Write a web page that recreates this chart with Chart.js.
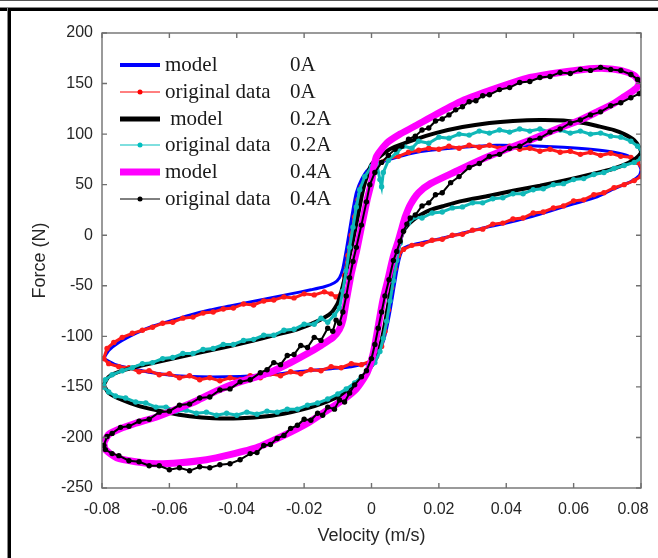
<!DOCTYPE html>
<html>
<head>
<meta charset="utf-8">
<script src="https://cdn.jsdelivr.net/npm/chart.js@4.4.1/dist/chart.umd.min.js"></script>
<style>
  body { margin: 0; background: #fff; }
  #wrap { position: relative; width: 658px; height: 558px; overflow: hidden; }
  canvas { position: absolute; left: 0; top: 0; }
  .fr { position: absolute; }
</style>
</head>
<body>
<div id="wrap">
  <canvas id="chart" width="658" height="558"></canvas>
  <div class="fr" style="left:0;top:0;width:658px;height:1px;background:#555;"></div>
  <div class="fr" style="left:0;top:7px;width:658px;height:1px;background:#888;"></div>
  <div class="fr" style="left:0;top:8px;width:658px;height:3px;background:#000;"></div>
  <div class="fr" style="left:7px;top:8px;width:1px;height:550px;background:#888;"></div>
  <div class="fr" style="left:8px;top:8px;width:3px;height:550px;background:#000;"></div>
</div>
<script>
// axis ticks
var xTicks = [-0.08, -0.06, -0.04, -0.02, 0, 0.02, 0.04, 0.06, 0.08];
var xTickLabels = ['-0.08', '-0.06', '-0.04', '-0.02', '0', '0.02', '0.04', '0.06', '0.08'];
var yTicks = [-250, -200, -150, -100, -50, 0, 50, 100, 150, 200];
var yTickLabels = ['-250', '-200', '-150', '-100', '-50', '0', '50', '100', '150', '200'];

var legendNames = ['model', 'original data', ' model', 'original data', 'model', 'original data'];
var legendCurrents = ['0A', '0A', '0.2A', '0.2A', '0.4A', '0.4A'];

// velocity (m/s), force (N), read around each loop
var model0A = [
  [-0.0795,-122],[-0.078,-114],[-0.075,-106],[-0.07,-97],[-0.065,-90],[-0.06,-85],[-0.054,-79],
  [-0.048,-74],[-0.042,-70],[-0.036,-66],[-0.03,-62],[-0.024,-58],[-0.018,-54],[-0.014,-51],
  [-0.011,-47],[-0.0095,-42],[-0.0085,-33],[-0.0075,-15],[-0.0065,5],[-0.0055,25],[-0.0045,42],
  [-0.003,55],[-0.001,65],[0.002,71],[0.0065,76],[0.012,81],[0.0175,84],[0.027,87],[0.037,89],
  [0.047,88.5],[0.057,87],[0.065,85],[0.072,82],[0.0765,78],[0.079,72],[0.08,65],
  [0.0795,59],[0.077,53],[0.072,46],[0.067,38],[0.06,31],[0.053,24],[0.047,18],[0.04,12],
  [0.033,7],[0.027,2],[0.021,-3],[0.0155,-7],[0.0115,-10],[0.0095,-13],[0.0085,-20],
  [0.0075,-35],[0.0065,-55],[0.0055,-75],[0.0045,-92],[0.0035,-105],[0.002,-117],[0.0,-125],
  [-0.006,-130],[-0.012,-132],[-0.019,-134],[-0.027,-137],[-0.035,-139],[-0.043,-140],
  [-0.051,-140],[-0.058,-139],[-0.065,-136],[-0.071,-132],[-0.076,-128],[-0.0795,-122]
];

var data0A = [
  [-0.0795,-122],[-0.0785,-112],[-0.0765,-106],[-0.074,-101],[-0.071,-97],[-0.068,-94],
  [-0.065,-91],[-0.062,-87],[-0.059,-86],[-0.056,-82],[-0.053,-81],[-0.05,-77],[-0.047,-76],
  [-0.044,-73],[-0.041,-72],[-0.038,-68],[-0.035,-69],[-0.032,-65],[-0.029,-64],[-0.026,-61],
  [-0.023,-62],[-0.02,-58],[-0.017,-59],[-0.014,-56],[-0.012,-58],[-0.0105,-61],[-0.009,-58],
  [-0.008,-40],[-0.007,-20],[-0.006,0],[-0.005,18],[-0.004,35],[-0.003,48],[-0.0015,58],
  [0.0,66],[0.002,72],[0.005,76],[0.008,78],[0.011,82],[0.014,84],[0.017,86],[0.02,85],
  [0.023,88],[0.026,86],[0.029,89],[0.032,87],[0.035,89],[0.038,86],[0.041,88],[0.044,85],
  [0.047,86],[0.05,83],[0.053,85],[0.056,82],[0.059,83],[0.062,80],[0.065,82],[0.068,79],
  [0.071,81],[0.074,78],[0.077,77],[0.079,72],[0.0805,65],[0.08,58],[0.078,54],[0.075,50],
  [0.072,47],[0.069,42],[0.066,40],[0.063,35],[0.06,34],[0.057,29],[0.054,27],[0.051,23],
  [0.048,22],[0.045,17],[0.042,16],[0.039,12],[0.036,11],[0.033,6],[0.03,5],[0.027,1],
  [0.024,0],[0.021,-4],[0.018,-5],[0.015,-9],[0.012,-10],[0.0095,-14],[0.008,-20],
  [0.007,-33],[0.006,-52],[0.005,-74],[0.004,-95],[0.003,-110],[0.0015,-120],[0.0,-124],
  [-0.003,-128],[-0.006,-127],[-0.009,-131],[-0.012,-130],[-0.015,-134],[-0.018,-133],
  [-0.021,-137],[-0.024,-135],[-0.027,-139],[-0.03,-137],[-0.033,-141],[-0.036,-139],
  [-0.039,-143],[-0.042,-141],[-0.045,-144],[-0.048,-141],[-0.051,-143],[-0.054,-139],
  [-0.057,-141],[-0.06,-137],[-0.063,-138],[-0.066,-134],[-0.069,-135],[-0.072,-131],
  [-0.075,-130],[-0.078,-127],[-0.0795,-122]
];

var model02A = [
  [-0.0795,-148],[-0.078,-140],[-0.074,-134],[-0.067,-128],[-0.059,-122],[-0.051,-116],
  [-0.044,-111],[-0.036,-105],[-0.029,-99],[-0.022,-93],[-0.016,-85],[-0.012,-77],[-0.01,-67],
  [-0.0085,-50],[-0.007,-28],[-0.0055,-5],[-0.004,20],[-0.0025,45],[-0.001,62],[0.0,70],
  [0.0025,78],[0.006,86],[0.0124,94],[0.019,101],[0.027,107],[0.035,111],[0.042,113],
  [0.05,114],[0.057,113.5],[0.063,111],[0.067,108],[0.072,104],[0.075,100],[0.078,94],
  [0.0795,87],[0.08,82],[0.0785,76],[0.076,71],[0.072,66],[0.065,60],[0.057,54],[0.05,49],
  [0.042,44],[0.035,39],[0.027,34],[0.0215,29],[0.0175,25],[0.0145,20],[0.0124,15],
  [0.0105,9],[0.0095,4],[0.0085,-5],[0.0075,-20],[0.0065,-38],[0.0055,-58],[0.0045,-78],
  [0.0035,-96],[0.0025,-110],[0.001,-124],[-0.0015,-136],[-0.0045,-146],[-0.0064,-153],
  [-0.01,-160],[-0.0144,-166],[-0.019,-171],[-0.024,-175],[-0.031,-179],[-0.039,-181],
  [-0.047,-181],[-0.054,-179],[-0.061,-175],[-0.069,-169],[-0.074,-163],[-0.078,-156],
  [-0.0795,-148]
];

var data02A = [
  [-0.0795,-150],[-0.079,-143],[-0.077,-138],[-0.074,-134],[-0.071,-131],[-0.068,-127],
  [-0.065,-126],[-0.062,-122],[-0.059,-121],[-0.056,-117],[-0.053,-117],[-0.05,-113],
  [-0.047,-112],[-0.044,-108],[-0.041,-108],[-0.038,-104],[-0.035,-103],[-0.032,-99],
  [-0.029,-99],[-0.026,-94],[-0.023,-93],[-0.02,-88],[-0.017,-88],[-0.015,-82],[-0.013,-86],
  [-0.011,-79],[-0.0095,-72],[-0.0085,-55],[-0.0075,-35],[-0.0065,-12],[-0.0055,8],
  [-0.0045,28],[-0.0035,45],[-0.002,58],[0.0,68],[0.0015,72],[0.0025,55],[0.003,48],
  [0.0035,62],[0.005,74],[0.0075,82],[0.0095,88],[0.012,86],[0.014,93],[0.017,91],[0.02,97],
  [0.023,96],[0.026,100],[0.029,99],[0.032,103],[0.035,101],[0.038,104],[0.041,102],
  [0.044,105],[0.047,103],[0.05,105],[0.053,102],[0.056,104],[0.059,101],[0.062,103],
  [0.065,100],[0.068,101],[0.071,98],[0.074,97],[0.077,93],[0.079,88],[0.0805,82],[0.08,76],
  [0.078,72],[0.075,69],[0.072,66],[0.069,62],[0.066,60],[0.063,56],[0.06,55],[0.057,51],
  [0.054,50],[0.051,46],[0.048,45],[0.045,41],[0.042,41],[0.039,37],[0.036,36],[0.033,32],
  [0.03,32],[0.027,28],[0.024,27],[0.021,23],[0.018,22],[0.015,17],[0.013,18],[0.011,12],
  [0.0095,6],[0.0085,-8],[0.0075,-25],[0.0065,-45],[0.0055,-65],[0.0045,-85],[0.0035,-102],
  [0.0025,-115],[0.001,-126],[-0.001,-134],[-0.003,-140],[-0.005,-146],[-0.0075,-152],
  [-0.01,-157],[-0.013,-162],[-0.016,-166],[-0.019,-168],[-0.022,-172],[-0.025,-172],
  [-0.028,-175],[-0.031,-174],[-0.034,-177],[-0.037,-175],[-0.04,-178],[-0.043,-176],
  [-0.046,-178],[-0.049,-175],[-0.052,-176],[-0.055,-173],[-0.058,-174],[-0.061,-170],
  [-0.064,-170],[-0.067,-166],[-0.07,-165],[-0.073,-161],[-0.076,-159],[-0.078,-155],
  [-0.0795,-150]
];

var model04A = [
  [-0.0795,-205],[-0.078,-197],[-0.075,-192],[-0.07,-186],[-0.064,-180],[-0.058,-172],
  [-0.052,-164],[-0.046,-154],[-0.04,-146],[-0.034,-140],[-0.029,-134],[-0.024,-126],
  [-0.019,-117],[-0.015,-109],[-0.0114,-101],[-0.0095,-93],[-0.0085,-84],[-0.0075,-65],
  [-0.006,-38],[-0.0044,-15],[-0.003,8],[-0.0013,35],[0.0001,54],[0.0006,66],[0.0015,78],
  [0.0045,91],[0.0085,100],[0.0124,107],[0.02,121],[0.027,133],[0.035,143],[0.042,151],
  [0.047,156],[0.056,161],[0.063,164],[0.069,165],[0.074,163],[0.078,158],[0.0795,151],
  [0.0785,145],[0.075,137],[0.0718,130],[0.067,122],[0.062,114],[0.055,105],[0.047,94],
  [0.04,85],[0.032,74],[0.025,63],[0.0175,51],[0.014,42],[0.0115,30],[0.01,18],[0.0091,8],
  [0.008,-5],[0.0064,-22],[0.005,-42],[0.0034,-64],[0.002,-90],[0.0005,-117],[-0.0013,-136],
  [-0.0045,-152],[-0.0085,-163],[-0.014,-175],[-0.019,-186],[-0.026,-198],[-0.034,-210],
  [-0.042,-217],[-0.049,-222],[-0.057,-225],[-0.064,-226],[-0.07,-224],[-0.0757,-220],
  [-0.079,-212],[-0.0795,-205]
];

var data04A = [
  [-0.0795,-208],[-0.0785,-199],[-0.077,-196],[-0.0745,-190],[-0.072,-189],[-0.069,-184],
  [-0.066,-182],[-0.063,-175],[-0.06,-174],[-0.057,-168],[-0.054,-167],[-0.051,-161],
  [-0.048,-160],[-0.045,-153],[-0.042,-152],[-0.039,-145],[-0.036,-143],[-0.033,-136],
  [-0.031,-133],[-0.029,-126],[-0.027,-128],[-0.025,-119],[-0.023,-118],[-0.021,-109],
  [-0.019,-111],[-0.017,-101],[-0.015,-104],[-0.013,-92],[-0.0115,-95],[-0.0105,-84],
  [-0.0095,-87],[-0.0085,-76],[-0.0075,-60],[-0.0065,-42],[-0.0055,-26],[-0.0045,-12],
  [-0.003,10],[-0.0015,33],[-0.0005,50],[0.001,62],[0.003,72],[0.005,79],[0.007,85],
  [0.009,88],[0.011,95],[0.013,98],[0.015,104],[0.017,106],[0.019,113],[0.021,115],
  [0.023,119],[0.025,124],[0.027,127],[0.029,132],[0.031,133],[0.033,138],[0.035,139],
  [0.038,144],[0.041,146],[0.044,151],[0.047,152],[0.05,156],[0.053,157],[0.056,161],
  [0.059,160],[0.062,164],[0.065,163],[0.068,166],[0.071,164],[0.074,163],[0.077,159],
  [0.079,154],[0.0805,147],[0.0795,140],[0.077,136],[0.074,131],[0.071,128],[0.068,122],
  [0.065,119],[0.062,114],[0.059,111],[0.056,105],[0.053,102],[0.05,96],[0.047,94],
  [0.044,88],[0.041,86],[0.038,80],[0.035,78],[0.032,71],[0.029,67],[0.026,58],[0.0235,52],
  [0.021,42],[0.019,40],[0.017,32],[0.015,29],[0.013,20],[0.0115,17],[0.0105,11],[0.0095,4],
  [0.0085,-6],[0.0075,-16],[0.0065,-25],[0.0052,-44],[0.004,-60],[0.003,-76],[0.002,-92],
  [0.001,-108],[0.0,-122],[-0.0015,-134],[-0.003,-140],[-0.005,-148],[-0.0065,-156],
  [-0.008,-165],[-0.0095,-163],[-0.011,-172],[-0.013,-170],[-0.0145,-178],[-0.016,-176],
  [-0.018,-183],[-0.02,-182],[-0.022,-188],[-0.024,-191],[-0.026,-198],[-0.028,-201],
  [-0.03,-207],[-0.032,-208],[-0.034,-215],[-0.036,-216],[-0.039,-222],[-0.042,-226],
  [-0.045,-227],[-0.048,-230],[-0.051,-229],[-0.054,-233],[-0.057,-230],[-0.06,-232],
  [-0.063,-228],[-0.066,-228],[-0.069,-224],[-0.072,-223],[-0.075,-218],[-0.077,-216],
  [-0.079,-212],[-0.0795,-208]
];

function toPoints(arr) {
    return arr.map(function (p) { return { x: p[0], y: p[1] }; });
}

function modelSet(arr, color, width, order) {
    return {
        data: toPoints(arr),
        showLine: true,
        borderColor: color,
        borderWidth: width,
        pointRadius: 0,
        tension: 0.2,
        order: order
    };
}

function dataSet(arr, color, width, order) {
    return {
        data: toPoints(arr),
        showLine: true,
        borderColor: color,
        borderWidth: width,
        pointRadius: 2.7,
        pointBackgroundColor: color,
        pointBorderWidth: 0,
        tension: 0,
        order: order
    };
}

// legend samples: color, line width, has marker
var legendStyles = [
    ['#0000ff', 4, false],
    ['#ff0000', 1, true],
    ['#000000', 5, false],
    ['#00bfbf', 1, true],
    ['#ff00ff', 7, false],
    ['#000000', 1, true]
];
var legendRows = [65, 92, 119, 145, 172, 199];

var boxPlugin = {
    id: 'box',
    afterDraw: function (chart) {
        var ctx = chart.ctx;
        var a = chart.chartArea;
        var sx = chart.scales.x, sy = chart.scales.y;
        ctx.save();
        ctx.strokeStyle = '#707070';
        ctx.lineWidth = 1.4;
        ctx.strokeRect(a.left, a.top, a.right - a.left, a.bottom - a.top);
        ctx.beginPath();
        xTicks.forEach(function (v) {
            var px = sx.getPixelForValue(v);
            ctx.moveTo(px, a.bottom); ctx.lineTo(px, a.bottom - 5);
            ctx.moveTo(px, a.top); ctx.lineTo(px, a.top + 5);
        });
        yTicks.forEach(function (v) {
            var py = sy.getPixelForValue(v);
            ctx.moveTo(a.left, py); ctx.lineTo(a.left + 5, py);
            ctx.moveTo(a.right, py); ctx.lineTo(a.right - 5, py);
        });
        ctx.stroke();

        // legend
        ctx.font = '21px "Liberation Serif", "Times New Roman", serif';
        ctx.textBaseline = 'middle';
        for (var i = 0; i < legendNames.length; i++) {
            var y = legendRows[i];
            var st = legendStyles[i];
            ctx.strokeStyle = st[0];
            ctx.lineWidth = st[1];
            ctx.beginPath();
            ctx.moveTo(120, y); ctx.lineTo(160, y);
            ctx.stroke();
            if (st[2]) {
                ctx.fillStyle = st[0];
                ctx.beginPath();
                ctx.arc(140, y, 2.5, 0, Math.PI * 2);
                ctx.fill();
            }
            ctx.fillStyle = '#1a1a1a';
            ctx.fillText(legendNames[i], 165, y);
            ctx.fillText(legendCurrents[i], 290, y);
        }
        ctx.restore();
    }
};

var tickFont = { family: '"Liberation Sans", Arial, sans-serif', size: 16 };
var titleFont = { family: '"Liberation Sans", Arial, sans-serif', size: 18 };

var config = {
    type: 'scatter',
    data: {
        datasets: [
            modelSet(model0A, '#0000ff', 3, 6),
            dataSet(data0A, '#ff1a1a', 3, 5),
            modelSet(model02A, '#000000', 4, 4),
            dataSet(data02A, '#10b8b8', 3, 3),
            modelSet(model04A, '#ff00ff', 7, 2),
            dataSet(data04A, '#000000', 2, 1)
        ]
    },
    options: {
        responsive: false,
        animation: false,
        layout: { padding: { left: 0, right: 17, top: 33, bottom: 0 } },
        plugins: { legend: { display: false }, tooltip: { enabled: false } },
        scales: {
            x: {
                type: 'linear',
                min: -0.08,
                max: 0.08,
                afterBuildTicks: function (scale) {
                    scale.ticks = xTicks.map(function (v) { return { value: v }; });
                },
                afterFit: function (scale) {
                    scale.height = 70;
                    scale.paddingLeft = 0;
                    scale.paddingRight = 0;
                },
                ticks: {
                    padding: 12,
                    color: '#262626',
                    font: tickFont,
                    maxRotation: 0,
                    callback: function (value, index) {
                        // last label sits a little inside the figure edge
                        if (index === xTickLabels.length - 1) return xTickLabels[index] + '\u2002\u2002';
                        return xTickLabels[index];
                    }
                },
                grid: { display: false, drawTicks: false },
                border: { display: false },
                title: {
                    display: true,
                    text: 'Velocity (m/s)',
                    color: '#262626',
                    font: titleFont,
                    padding: { top: 0, bottom: 11 }
                }
            },
            y: {
                type: 'linear',
                min: -250,
                max: 200,
                afterBuildTicks: function (scale) {
                    scale.ticks = yTicks.map(function (v) { return { value: v }; });
                },
                afterFit: function (scale) {
                    scale.width = 102;
                    scale.paddingTop = 0;
                    scale.paddingBottom = 0;
                },
                ticks: {
                    padding: 9,
                    color: '#262626',
                    font: tickFont,
                    callback: function (value, index) { return yTickLabels[index]; }
                },
                grid: { display: false, drawTicks: false },
                border: { display: false },
                title: {
                    display: true,
                    text: 'Force (N)',
                    color: '#262626',
                    font: titleFont,
                    padding: { top: 29, bottom: 0 }
                }
            }
        }
    },
    plugins: [boxPlugin]
};

var myChart = new Chart(document.getElementById('chart'), config);
</script>
</body>
</html>
